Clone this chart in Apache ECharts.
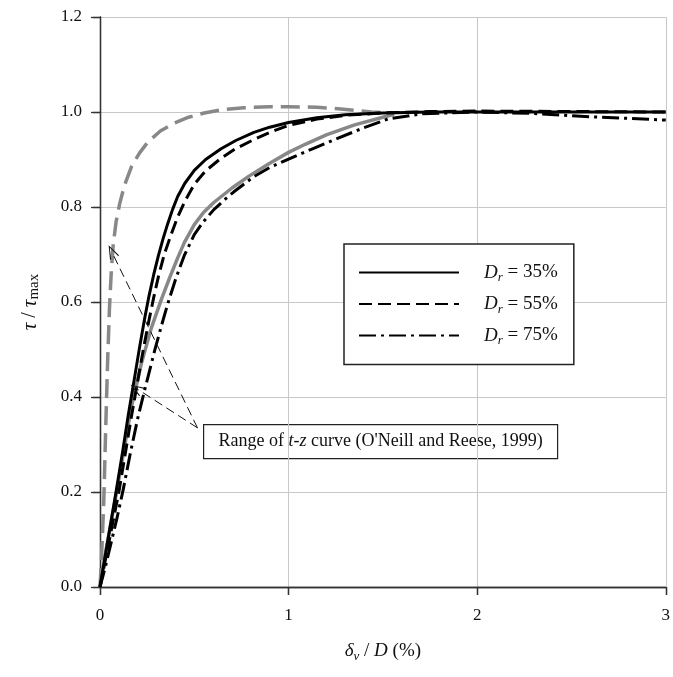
<!DOCTYPE html>
<html>
<head>
<meta charset="utf-8">
<script src="https://cdn.jsdelivr.net/npm/echarts@6/dist/echarts.min.js"></script>
<style>html,body{margin:0;padding:0;background:#fff}#c{width:673px;height:677px}</style>
</head>
<body>
<div id="c"></div>
<script>
// ---- data ----
const xDr35 = [0, 0.02, 0.05, 0.085, 0.12, 0.15, 0.185, 0.21, 0.237, 0.26, 0.285, 0.31, 0.335, 0.36, 0.385, 0.412, 0.45, 0.5, 0.56, 0.64, 0.72, 0.816, 0.9, 1.0, 1.15, 1.3, 1.5, 1.75, 2.0, 2.5, 3.0];
const yDr35 = [0, 0.048, 0.118, 0.2, 0.285, 0.362, 0.445, 0.505, 0.566, 0.613, 0.658, 0.698, 0.734, 0.766, 0.795, 0.822, 0.85, 0.877, 0.9, 0.922, 0.94, 0.957, 0.968, 0.978, 0.988, 0.994, 0.998, 1.0, 1.0, 1.0, 1.0];

const xDr55 = [0, 0.025, 0.06, 0.1, 0.135, 0.168, 0.205, 0.232, 0.26, 0.285, 0.31, 0.342, 0.377, 0.41, 0.45, 0.5, 0.56, 0.64, 0.72, 0.816, 0.9, 1.0, 1.15, 1.3, 1.5, 1.75, 2.0, 2.5, 3.0];
const yDr55 = [0, 0.05, 0.12, 0.2, 0.283, 0.362, 0.445, 0.505, 0.562, 0.61, 0.654, 0.702, 0.742, 0.777, 0.812, 0.848, 0.876, 0.902, 0.923, 0.942, 0.957, 0.972, 0.985, 0.993, 0.998, 1.001, 1.002, 1.001, 1.0];

const xDr75 = [0, 0.03, 0.06, 0.09, 0.123, 0.16, 0.2, 0.237, 0.29, 0.325, 0.36, 0.4, 0.447, 0.5, 0.55, 0.605, 0.66, 0.71, 0.816, 0.9, 1.0, 1.13, 1.263, 1.4, 1.526, 1.7, 2.0, 2.3, 2.6, 3.0];
const yDr75 = [0, 0.045, 0.095, 0.145, 0.205, 0.28, 0.355, 0.415, 0.498, 0.549, 0.597, 0.647, 0.698, 0.742, 0.77, 0.795, 0.815, 0.832, 0.864, 0.883, 0.901, 0.923, 0.945, 0.967, 0.985, 0.996, 1.0, 0.997, 0.99, 0.983];

const xTzLow = [0, 0.035, 0.088, 0.13, 0.167, 0.219, 0.272, 0.325, 0.37, 0.412, 0.447, 0.5, 0.55, 0.605, 0.7, 0.79, 0.9, 1.0, 1.088, 1.2, 1.35, 1.51, 1.56];
const yTzLow = [0, 0.085, 0.2, 0.295, 0.38, 0.47, 0.545, 0.605, 0.652, 0.693, 0.725, 0.763, 0.789, 0.81, 0.84, 0.865, 0.892, 0.915, 0.932, 0.952, 0.973, 0.99, 0.995];

const xTzHigh = [0, 0.008, 0.02, 0.03, 0.04, 0.05, 0.06, 0.07, 0.085, 0.105, 0.13, 0.167, 0.21, 0.254, 0.32, 0.395, 0.47, 0.553, 0.65, 0.763, 0.9, 1.0, 1.15, 1.263, 1.36, 1.44, 1.55];
const yTzHigh = [0, 0.06, 0.18, 0.33, 0.47, 0.585, 0.665, 0.72, 0.768, 0.808, 0.846, 0.885, 0.914, 0.937, 0.96, 0.977, 0.989, 0.998, 1.005, 1.009, 1.011, 1.011, 1.01, 1.007, 1.003, 1.0, 0.998];

const seriesNames = ['Dr = 35%', 'Dr = 55%', 'Dr = 75%'];
const legendLabels = ['35%', '55%', '75%'];

// annotation: label anchor and arrow tips (data coordinates)
const annotFrom = [0.517, 0.335];
const annotTips = [[0.062, 0.706], [0.193, 0.418]];
const annotText = "Range of {i|t-z} curve (O'Neill and Reese, 1999)";

const xMin = 0, xMax = 3, xStep = 1;
const yMin = 0, yMax = 1.2, yStep = 0.2;

// ---- chart ----
const zip = (xs, ys) => xs.map((x, i) => [x, ys[i]]);
const FONT = '"Liberation Serif", "Times New Roman", serif';
const chart = echarts.init(document.getElementById('c'), null, {renderer: 'canvas'});

const axisLine = {show: true, lineStyle: {color: '#333', width: 1.3}};

const option = {
  animation: false,
  backgroundColor: '#fff',
  textStyle: {fontFamily: FONT},
  grid: {left: 100, right: 4, top: 17, bottom: 90, containLabel: false},
  xAxis: [{
    type: 'value', min: xMin, max: xMax, interval: xStep,
    axisLine: axisLine,
    axisTick: {show: true, inside: false, length: 8, lineStyle: {color: '#333', width: 1.3}},
    axisLabel: {color: '#111', fontSize: 17, fontFamily: FONT, margin: 20},
    splitLine: {show: true, lineStyle: {color: '#c8c8c8', width: 1}},
    name: '{i|δ}{sub|v}{n| / }{i|D}{n| (%)}',
    nameLocation: 'middle', nameGap: 52,
    nameTextStyle: {
      fontFamily: FONT, fontSize: 19, color: '#111',
      rich: {
        i: {fontStyle: 'italic', fontSize: 19, fontFamily: FONT, color: '#111', lineHeight: 24},
        n: {fontSize: 19, fontFamily: FONT, color: '#111', lineHeight: 24},
        sub: {fontStyle: 'italic', fontSize: 13, fontFamily: FONT, color: '#111', lineHeight: 13, verticalAlign: 'bottom'}
      }
    }
  }, {
    type: 'value', min: xMin, max: xMax, interval: xStep, position: 'top',
    axisLine: axisLine,
    axisTick: {show: true, inside: true, length: 8, lineStyle: {color: '#333', width: 1.3}},
    axisLabel: {show: false}, splitLine: {show: false}
  }],
  yAxis: [{
    type: 'value', min: yMin, max: yMax, interval: yStep,
    axisLine: axisLine,
    axisTick: {show: true, inside: false, length: 9, lineStyle: {color: '#333', width: 1.3}},
    axisLabel: {color: '#111', fontSize: 17, fontFamily: FONT, margin: 18, formatter: v => v.toFixed(1)},
    splitLine: {show: true, lineStyle: {color: '#c8c8c8', width: 1}},
    name: '{i|τ}{n| / }{i|τ}{sub|max}',
    nameLocation: 'middle', nameGap: 58, nameRotate: 90,
    nameTextStyle: {
      fontFamily: FONT, fontSize: 20, color: '#111',
      rich: {
        i: {fontStyle: 'italic', fontSize: 21, fontFamily: FONT, color: '#111', lineHeight: 24},
        n: {fontSize: 20, fontFamily: FONT, color: '#111', lineHeight: 24},
        sub: {fontSize: 15, fontFamily: FONT, color: '#111', lineHeight: 14, verticalAlign: 'bottom'}
      }
    }
  }, {
    type: 'value', min: yMin, max: yMax, interval: yStep, position: 'right',
    axisLine: axisLine,
    axisTick: {show: true, inside: true, length: 7, lineStyle: {color: '#333', width: 1.3}},
    axisLabel: {show: false}, splitLine: {show: false}
  }],
  legend: {
    data: seriesNames,
    orient: 'vertical',
    left: 344, top: 244,
    padding: [19, 16, 17, 14],
    itemGap: 10,
    itemWidth: 100, itemHeight: 14,
    backgroundColor: '#fff',
    borderColor: '#222', borderWidth: 1.5, borderRadius: 0,
    selectedMode: false,
    itemStyle: {opacity: 0, borderWidth: 0},
    formatter: name => '{i|D}{sub|r}{n| = ' + legendLabels[seriesNames.indexOf(name)] + '}',
    textStyle: {
      fontFamily: FONT, fontSize: 19, color: '#111',
      rich: {
        i: {fontStyle: 'italic', fontSize: 19, fontFamily: FONT, color: '#111', lineHeight: 24, padding: [0, 0, 0, 20]},
        n: {fontSize: 19, fontFamily: FONT, color: '#111', lineHeight: 24},
        sub: {fontStyle: 'italic', fontSize: 13, fontFamily: FONT, color: '#111', lineHeight: 13, verticalAlign: 'bottom'}
      }
    }
  },
  graphic: [{
    type: 'group', left: 203, top: 424, z: 100,
    children: [{
      type: 'rect', shape: {x: 0, y: 0, width: 354, height: 34},
      style: {fill: '#fff', stroke: '#222', lineWidth: 1.2}
    }, {
      type: 'text', x: 177, y: 17,
      style: {
        text: annotText, align: 'center', verticalAlign: 'middle',
        fontFamily: FONT, fontSize: 18, fill: '#111',
        rich: {i: {fontStyle: 'italic', fontFamily: FONT, fontSize: 18, fill: '#111'}}
      }
    }]
  }],
  series: [
    {
      name: 't-z upper', type: 'line', data: zip(xTzHigh, yTzHigh),
      showSymbol: false, symbol: 'none', smooth: false, z: 2,
      lineStyle: {color: '#888', width: 3.5, type: [19, 8], cap: 'butt', join: 'round'}
    },
    {
      name: 't-z lower', type: 'line', data: zip(xTzLow, yTzLow),
      showSymbol: false, symbol: 'none', smooth: false, z: 2,
      lineStyle: {color: '#888', width: 3.5, type: 'solid', join: 'round'},
      markLine: {
        silent: true, animation: false,
        symbol: ['none', 'path://M5,0 L10,13 L9,13.6 L5,2.6 L1,13.6 L0,13 Z'],
        symbolSize: [10, 14],
        label: {show: false},
        lineStyle: {color: '#111', width: 1, type: [9, 5]},
        data: annotTips.map(t => [{coord: annotFrom}, {coord: t}])
      }
    },
    {
      name: seriesNames[0], type: 'line', data: zip(xDr35, yDr35),
      showSymbol: false, symbol: 'none', smooth: false, z: 3,
      itemStyle: {color: '#000'},
      lineStyle: {color: '#000', width: 3, type: 'solid', join: 'round'}
    },
    {
      name: seriesNames[1], type: 'line', data: zip(xDr55, yDr55),
      showSymbol: false, symbol: 'none', smooth: false, z: 3,
      itemStyle: {color: '#000'},
      lineStyle: {color: '#000', width: 3, type: [13, 6], cap: 'butt', join: 'round'}
    },
    {
      name: seriesNames[2], type: 'line', data: zip(xDr75, yDr75),
      showSymbol: false, symbol: 'none', smooth: false, z: 3,
      itemStyle: {color: '#000'},
      lineStyle: {color: '#000', width: 3, type: [17, 5, 3, 5], cap: 'butt', join: 'round'}
    }
  ]
};
chart.setOption(option);
</script>
</body>
</html>
